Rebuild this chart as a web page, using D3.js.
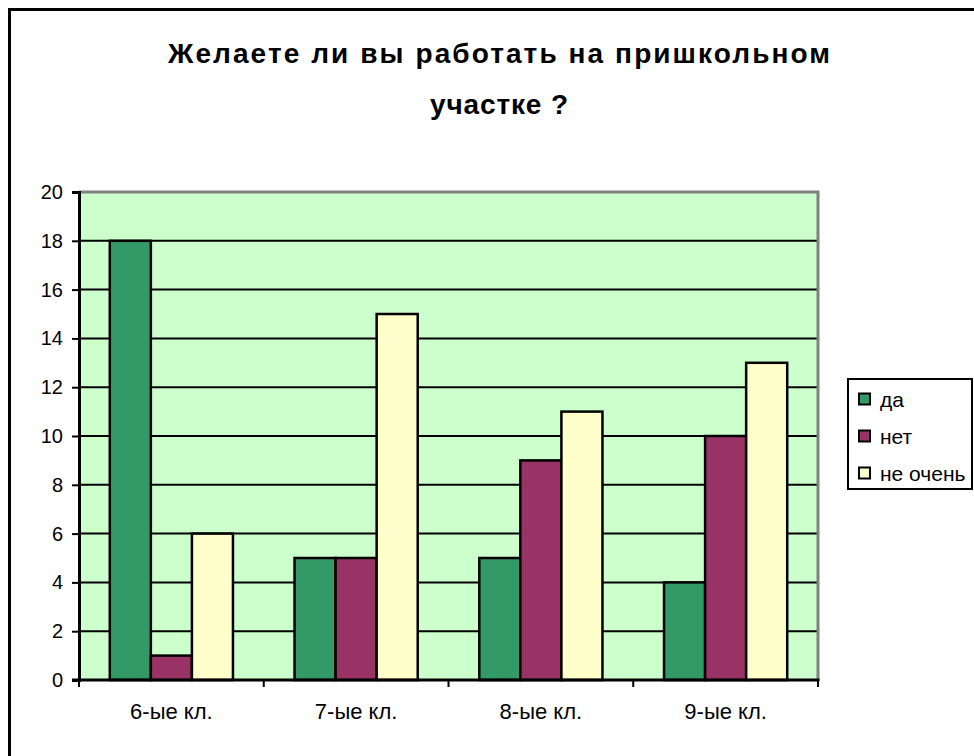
<!DOCTYPE html>
<html lang="ru">
<head>
    <meta charset="UTF-8">
    <title>Желаете ли вы работать на пришкольном участке ?</title>
    <script src="https://d3js.org/d3.v7.min.js"></script>
    <style>
        body { margin: 0; background: #fff; }
        svg { display: block; font-family: "Liberation Sans", Arial, sans-serif; }
    </style>
</head>
<body>
<svg id="chart" width="974" height="756"></svg>

<script>
    const classes = ["6-ые кл.", "7-ые кл.", "8-ые кл.", "9-ые кл."];
    const seriesNames = ["да", "нет", "не очень"];
    const yes = [18, 5, 5, 4];
    const no = [1, 5, 9, 10];
    const notReally = [6, 15, 11, 13];
    const yTicks = [0, 2, 4, 6, 8, 10, 12, 14, 16, 18, 20];
    const colors = ["#339966", "#993366", "#ffffcc"];

    const seriesValues = [yes, no, notReally];

    const svg = d3.select("#chart");

    // outer frame (cut off at right and bottom)
    svg.append("rect")
        .attr("x", 9.5).attr("y", 9.5)
        .attr("width", 1000).attr("height", 1000)
        .attr("fill", "#fff").attr("stroke", "#000").attr("stroke-width", 3);

    // title
    const title = svg.append("text")
        .attr("text-anchor", "middle")
        .attr("font-size", 28)
        .attr("font-weight", "bold")
        .attr("fill", "#000");
    title.append("tspan").attr("x", 499).attr("y", 63)
        .attr("textLength", 662).attr("lengthAdjust", "spacing")
        .text("Желаете ли вы работать на пришкольном");
    title.append("tspan").attr("x", 499).attr("y", 114)
        .attr("textLength", 138).attr("lengthAdjust", "spacing")
        .text("участке ?");

    const plot = { left: 79, top: 192, right: 818, bottom: 680 };

    const x = d3.scaleBand()
        .domain(classes)
        .range([plot.left, plot.right]);

    // Excel-style gap width: 150% of a bar split on both sides
    const inner = d3.scaleBand()
        .domain(seriesNames)
        .range([0, x.bandwidth()])
        .paddingInner(0)
        .paddingOuter(0.75);

    const y = d3.scaleLinear()
        .domain([0, 20])
        .range([plot.bottom, plot.top]);

    // plot background
    svg.append("rect")
        .attr("x", plot.left).attr("y", plot.top)
        .attr("width", plot.right - plot.left)
        .attr("height", plot.bottom - plot.top)
        .attr("fill", "#ccffcc");

    // grid lines
    svg.append("g")
        .selectAll("line")
        .data(yTicks.filter(d => d > 0 && d < 20))
        .join("line")
        .attr("x1", plot.left).attr("x2", plot.right)
        .attr("y1", d => y(d)).attr("y2", d => y(d))
        .attr("stroke", "#000").attr("stroke-width", 2);

    // gray top/right border
    svg.append("path")
        .attr("d", `M${plot.left},${plot.top}H${plot.right}V${plot.bottom}`)
        .attr("fill", "none").attr("stroke", "#808080").attr("stroke-width", 3);

    // bars
    const barData = [];
    classes.forEach((c, i) => {
        seriesNames.forEach((s, j) => {
            barData.push({ cls: c, series: s, value: seriesValues[j][i], color: colors[j] });
        });
    });

    svg.append("g")
        .selectAll("rect")
        .data(barData)
        .join("rect")
        .attr("x", d => x(d.cls) + inner(d.series))
        .attr("y", d => y(d.value))
        .attr("width", inner.bandwidth())
        .attr("height", d => y(0) - y(d.value))
        .attr("fill", d => d.color)
        .attr("stroke", "#000")
        .attr("stroke-width", 2.5);

    // y axis
    const yAxis = svg.append("g")
        .attr("transform", `translate(${plot.left},0)`)
        .call(d3.axisLeft(y).tickValues(yTicks).tickSize(7).tickPadding(9));
    yAxis.select(".domain").attr("stroke", "#000").attr("stroke-width", 3);
    yAxis.selectAll(".tick line").attr("stroke", "#000").attr("stroke-width", 2);
    yAxis.selectAll("text")
        .attr("font-size", 20)
        .attr("font-family", "Liberation Sans, Arial, sans-serif")
        .attr("fill", "#000");

    // x axis
    const xAxis = svg.append("g")
        .attr("transform", `translate(0,${plot.bottom})`)
        .call(d3.axisBottom(x).tickSize(0).tickPadding(23));
    xAxis.select(".domain").remove();
    xAxis.selectAll("text")
        .attr("font-size", 22)
        .attr("font-family", "Liberation Sans, Arial, sans-serif")
        .attr("fill", "#000");

    svg.append("line")
        .attr("x1", plot.left - 7).attr("x2", plot.right + 1.5)
        .attr("y1", plot.bottom).attr("y2", plot.bottom)
        .attr("stroke", "#000").attr("stroke-width", 3);

    svg.append("g")
        .selectAll("line")
        .data(classes.map(c => x(c)).concat([plot.right]))
        .join("line")
        .attr("x1", d => d).attr("x2", d => d)
        .attr("y1", plot.bottom).attr("y2", plot.bottom + 7)
        .attr("stroke", "#000").attr("stroke-width", 2);

    // legend
    const legend = svg.append("g");
    legend.append("rect")
        .attr("x", 848).attr("y", 379)
        .attr("width", 124).attr("height", 110)
        .attr("fill", "#fff").attr("stroke", "#000").attr("stroke-width", 2);

    const items = legend.selectAll("g.item")
        .data(seriesNames)
        .join("g")
        .attr("class", "item")
        .attr("transform", (d, i) => `translate(859,${399 + i * 37})`);

    items.append("rect")
        .attr("x", 0).attr("y", -5.5)
        .attr("width", 11).attr("height", 11)
        .attr("fill", (d, i) => colors[i])
        .attr("stroke", "#000").attr("stroke-width", 2);

    items.append("text")
        .attr("x", 21).attr("y", 8)
        .attr("font-size", 21)
        .attr("fill", "#000")
        .text(d => d);
</script>
</body>
</html>
